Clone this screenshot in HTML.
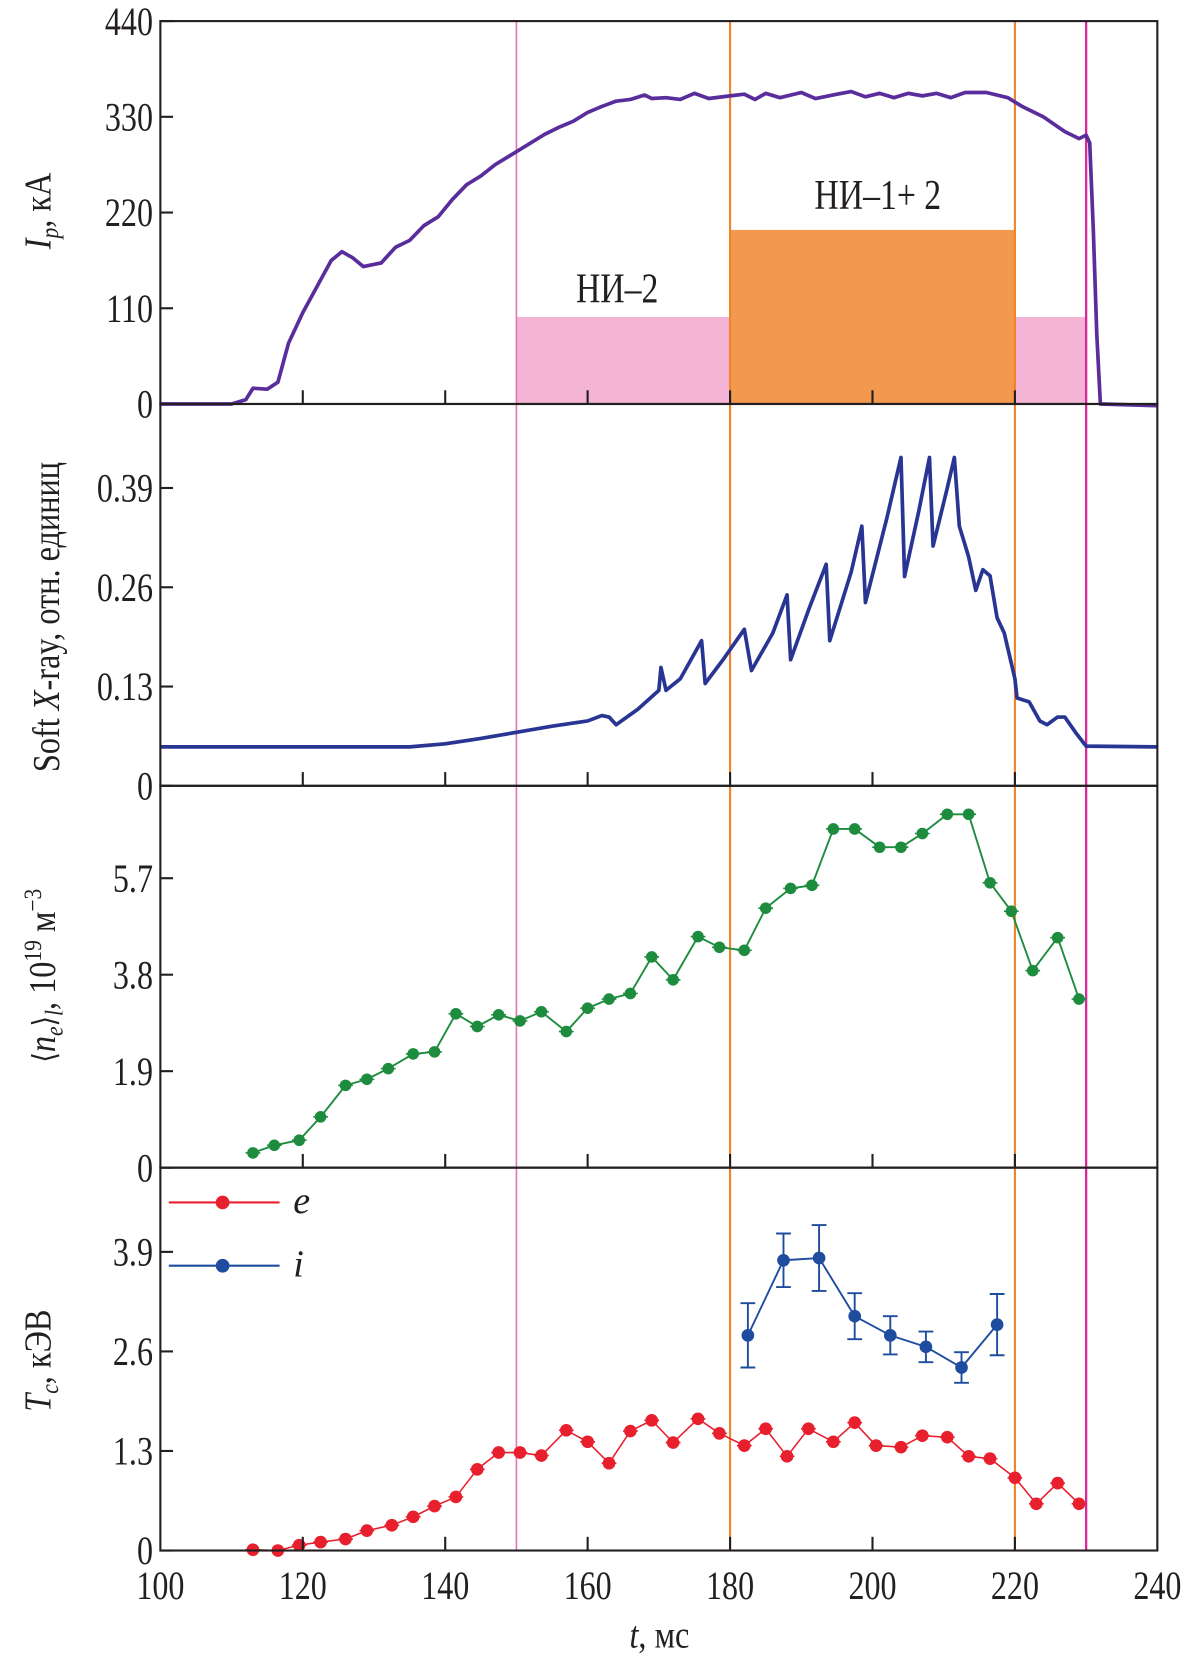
<!DOCTYPE html>
<html><head><meta charset="utf-8">
<style>
html,body{margin:0;padding:0;background:#fff;}
svg{display:block;}
text{font-family:"Liberation Serif",serif;fill:#231f20;}
</style></head>
<body>
<svg id="chart" width="1189" height="1656" viewBox="0 0 1127 1570" preserveAspectRatio="none" xmlns="http://www.w3.org/2000/svg">
</svg>
<script>
// ---- data ----
const ipT = [100,110,112,113,115,116.5,118,120,122,124,125.5,127,128.5,131,133,135,137,139,141,143,145,147,149,150,152,154,156,158,160,162,164,166,168,169,171,173,175,177,180,182,183.5,185,187,190,192,195,197,199,201,203,205,207,209,211,213,216,219,221,224,227,229,230,230.5,231,231.5,232,240];
const ipV = [0,0,5,18,17,25,70,105,135,165,175,168,158,162,180,188,205,215,235,252,262,275,285,290,300,310,318,325,335,342,348,350,355,351,352,350,357,351,354,356,350,357,352,358,351,356,359,353,357,352,357,354,357,352,358,358,352,342,330,313,305,309,300,200,80,0,-2];
const beamNI2 = [150,230,100];
const beamNI12 = [180,220,200];

const sxT = [100,135,140,145,150,155,160,162,163,164,167,170,170.3,171,173,176,176.5,179,182,183,186,188,188.5,191,193.5,194,197,198.5,199,202,204,204.5,206.5,208,208.5,210.5,211.5,212.2,213.5,214.5,215.5,216.5,217.5,218.5,220,220.3,222,223.5,224.5,226,227,228.5,230,240];
const sxV = [0.051,0.051,0.055,0.062,0.07,0.078,0.085,0.092,0.09,0.08,0.1,0.125,0.155,0.125,0.14,0.19,0.134,0.165,0.205,0.151,0.2,0.25,0.165,0.23,0.29,0.19,0.28,0.34,0.24,0.35,0.43,0.274,0.36,0.43,0.314,0.39,0.43,0.34,0.3,0.256,0.283,0.275,0.22,0.2,0.14,0.115,0.11,0.085,0.08,0.09,0.09,0.07,0.052,0.051];

const neT = [113,116,119.5,122.5,126,129,132,135.5,138.5,141.5,144.5,147.5,150.5,153.5,157,160,163,166,169,172,175.5,178.5,182,185,188.5,191.5,194.5,197.5,201,204,207,210.5,213.5,216.5,219.5,222.5,226,229];
const neV = [0.29,0.44,0.54,1.0,1.62,1.74,1.95,2.24,2.28,3.03,2.78,3.01,2.89,3.07,2.68,3.14,3.32,3.43,4.15,3.70,4.55,4.34,4.28,5.11,5.50,5.56,6.67,6.67,6.31,6.31,6.58,6.96,6.96,5.61,5.05,3.88,4.53,3.32];

const teT = [113,116.5,119.5,122.5,126,129,132.5,135.5,138.5,141.5,144.5,147.5,150.5,153.5,157,160,163,166,169,172,175.5,178.5,182,185,188,191,194.5,197.5,200.5,204,207,210.5,213.5,216.5,220,223,226,229];
const teV = [0.01,0,0.07,0.11,0.15,0.26,0.33,0.44,0.58,0.70,1.06,1.28,1.28,1.24,1.57,1.42,1.14,1.56,1.70,1.41,1.72,1.53,1.37,1.59,1.23,1.59,1.42,1.67,1.37,1.35,1.50,1.48,1.23,1.20,0.95,0.61,0.88,0.61];

const tiT = [182.5,187.5,192.5,197.5,202.5,207.5,212.5,217.5];
const tiV = [2.81,3.79,3.82,3.06,2.81,2.66,2.39,2.95];
const tiErr = [0.42,0.35,0.43,0.3,0.25,0.2,0.2,0.4];

const xTicks = [100,120,140,160,180,200,220,240];
const ipTicks = [0,110,220,330,440];
const sxTicks = [0,0.13,0.26,0.39];
const neTicks = [0,1.9,3.8,5.7];
const tTicks = [0,1.3,2.6,3.9];

// ---- geometry ----
const svg = document.getElementById('chart');
const NS = 'http://www.w3.org/2000/svg';
const X0 = 152, X1 = 1097;
const xs = t => X0 + (t - 100) / 140 * (X1 - X0);
const panels = [
  {top:20, bot:383, max:440},
  {top:383, bot:745, max:0.5},
  {top:745, bot:1107, max:7.52},
  {top:1107, bot:1470, max:5.0}
];
const ys = (p, v) => panels[p].bot - v / panels[p].max * (panels[p].bot - panels[p].top);

function mk(tag, attrs, parent){
  const e = document.createElementNS(NS, tag);
  for (const k in attrs) e.setAttribute(k, attrs[k]);
  (parent || svg).appendChild(e);
  return e;
}
function line(x1,y1,x2,y2,stroke,w,parent){
  return mk('line',{x1:x1,y1:y1,x2:x2,y2:y2,stroke:stroke,'stroke-width':w},parent);
}
function txt(x,y,s,size,anchor,parent){
  const e = mk('text',{x:x,y:y,'font-size':size,'text-anchor':anchor||'middle'},parent);
  e.textContent = s;
  return e;
}
function ctxt(x,y,s,size,anchor,parent){
  const e = mk('text',{x:0,y:0,'font-size':size,'text-anchor':anchor||'middle',transform:`translate(${x},${y}) scale(0.8,1)`},parent);
  e.textContent = s;
  return e;
}

// beam bars (panel 1)
const gBeam = mk('g',{});


let r1 = mk('rect',{x:xs(beamNI2[0]),y:ys(0,beamNI2[2]),width:xs(beamNI2[1])-xs(beamNI2[0]),height:ys(0,0)-ys(0,beamNI2[2]),fill:'#f3b3d4'},gBeam);


let r2 = mk('rect',{x:xs(beamNI12[0]),y:ys(0,beamNI12[2]),width:xs(beamNI12[1])-xs(beamNI12[0]),height:ys(0,0)-ys(0,beamNI12[2]),fill:'#f2994d'},gBeam);


let l1 = ctxt(585,287,'НИ–2',40,'middle',gBeam);


let l2 = ctxt(832,198,'НИ–1+ 2',40,'middle',gBeam);



// vertical markers
const vl = [[150,'#e07ab8',1.6,'marker-150'],[180,'#f0842a',2,'marker-180'],[220,'#f0842a',2,'marker-220'],[230,'#d8289a',2.2,'marker-230']];
vl.forEach(v=>{
  const e = line(xs(v[0]),20,xs(v[0]),1470,v[1],v[2]);
  
  
});

function poly(p, T, V, color, w, name){
  const pts = T.map((t,i)=>xs(t).toFixed(1)+','+ys(p,V[i]).toFixed(1)).join(' ');
  const e = mk('polyline',{points:pts,fill:'none',stroke:color,'stroke-width':w,'stroke-linejoin':'round'});
  
  
}
poly(0, ipT, ipV, '#5a2d9c', 3.5, 'plasma-current-line');
poly(1, sxT, sxV, '#283593', 3.5, 'soft-xray-line');
poly(2, neT, neV, '#1e8c3e', 1.8, 'density-line');
poly(3, teT, teV, '#e8202e', 1.5, 'te-line');
poly(3, tiT, tiV, '#1e4c9e', 1.8, 'ti-line');

function dots(p, T, V, color, r, name){
  T.forEach((t,i)=>{
    const cx = xs(t), cy = ys(p,V[i]);
    line(cx-7,cy,cx+7,cy,color,1.5);
    const c = mk('circle',{cx:cx,cy:cy,r:r,fill:color});
    
    
  });
}
dots(2, neT, neV, '#1e8c3e', 5.5, 'density-point');
dots(3, teT, teV, '#e8202e', 6, 'te-point');
tiT.forEach((t,i)=>{
  const cx = xs(t), yh = ys(3,tiV[i]+tiErr[i]), yl = ys(3,tiV[i]-tiErr[i]);
  const eb = mk('path',{d:`M${cx},${yh}V${yl}M${cx-7},${yh}H${cx+7}M${cx-7},${yl}H${cx+7}`,stroke:'#1e4c9e','stroke-width':1.8,fill:'none'});
  
  
  const c = mk('circle',{cx:cx,cy:ys(3,tiV[i]),r:6,fill:'#1e4c9e'});
  
  
});

// frames and ticks
panels.forEach((p,pi)=>{
  const fr = mk('rect',{x:X0,y:p.top,width:X1-X0,height:p.bot-p.top,fill:'none',stroke:'#231f20','stroke-width':2});
  
  
  xTicks.slice(1,-1).forEach(t=>line(xs(t),p.bot,xs(t),p.bot-13,'#231f20',2));
});
function yTicks(p, ticks, fmt){
  ticks.forEach(v=>{
    const y = ys(p,v);
    line(X0,y,X0+12,y,'#231f20',2);
    const e = ctxt(X0-7,y+13,fmt(v),38,'end');
    
    
  });
}
yTicks(0, ipTicks, v=>String(v));
yTicks(1, sxTicks, v=>v===0?'0':v.toFixed(2));
yTicks(2, neTicks, v=>v===0?'0':v.toFixed(1));
yTicks(3, tTicks, v=>v===0?'0':v.toFixed(1));
xTicks.forEach(t=>{
  const e = ctxt(xs(t),1516,String(t),38,'middle');
  
  
});

// axis titles
function ytitle(x,y,html,name){
  const e = mk('text',{x:0,y:0,'font-size':36,'text-anchor':'middle',transform:`translate(${x},${y}) rotate(-90) scale(0.85,1)`});
  e.innerHTML = html;
  
  
}
ytitle(48,200,'<tspan font-style="italic">I</tspan><tspan font-style="italic" font-size="24" dy="7">p</tspan><tspan dy="-7">, кА</tspan>','ip-axis-title');
ytitle(56,585,'Soft <tspan font-style="italic">X</tspan>-ray, отн. единиц','sxr-axis-title');
ytitle(52,925,'<tspan font-family="DejaVu Serif" font-size="30">⟨</tspan><tspan font-style="italic">n</tspan><tspan font-style="italic" font-size="24" dy="7">e</tspan><tspan dy="-7" font-family="DejaVu Serif" font-size="30">⟩</tspan><tspan font-style="italic" font-size="24" dy="7">l</tspan><tspan dy="-7">, 10</tspan><tspan font-size="24" dy="-13">19</tspan><tspan dy="13"> м</tspan><tspan font-size="24" dy="-13">−3</tspan>','density-axis-title');
ytitle(48,1290,'<tspan font-style="italic">T</tspan><tspan font-style="italic" font-size="24" dy="7">c</tspan><tspan dy="-7">, кЭВ</tspan>','temperature-axis-title');
const xt = mk('text',{x:0,y:0,'font-size':36,'text-anchor':'middle',transform:'translate(625,1562) scale(0.85,1)'});
xt.innerHTML = '<tspan font-style="italic">t</tspan>, мс';



// legend
const lg = mk('g',{});


[['#e8202e',1140,'e','legend-entry-e'],['#1e4c9e',1200,'i','legend-entry-i']].forEach(d=>{
  const g = mk('g',{},lg);
  
  
  line(160,d[1],265,d[1],d[0],2,g);
  mk('circle',{cx:211,cy:d[1],r:6.5,fill:d[0]},g);
  const t = txt(278,d[1]+10,d[2],36,'start',g);
  t.setAttribute('font-style','italic');
});
</script>
</body></html>
